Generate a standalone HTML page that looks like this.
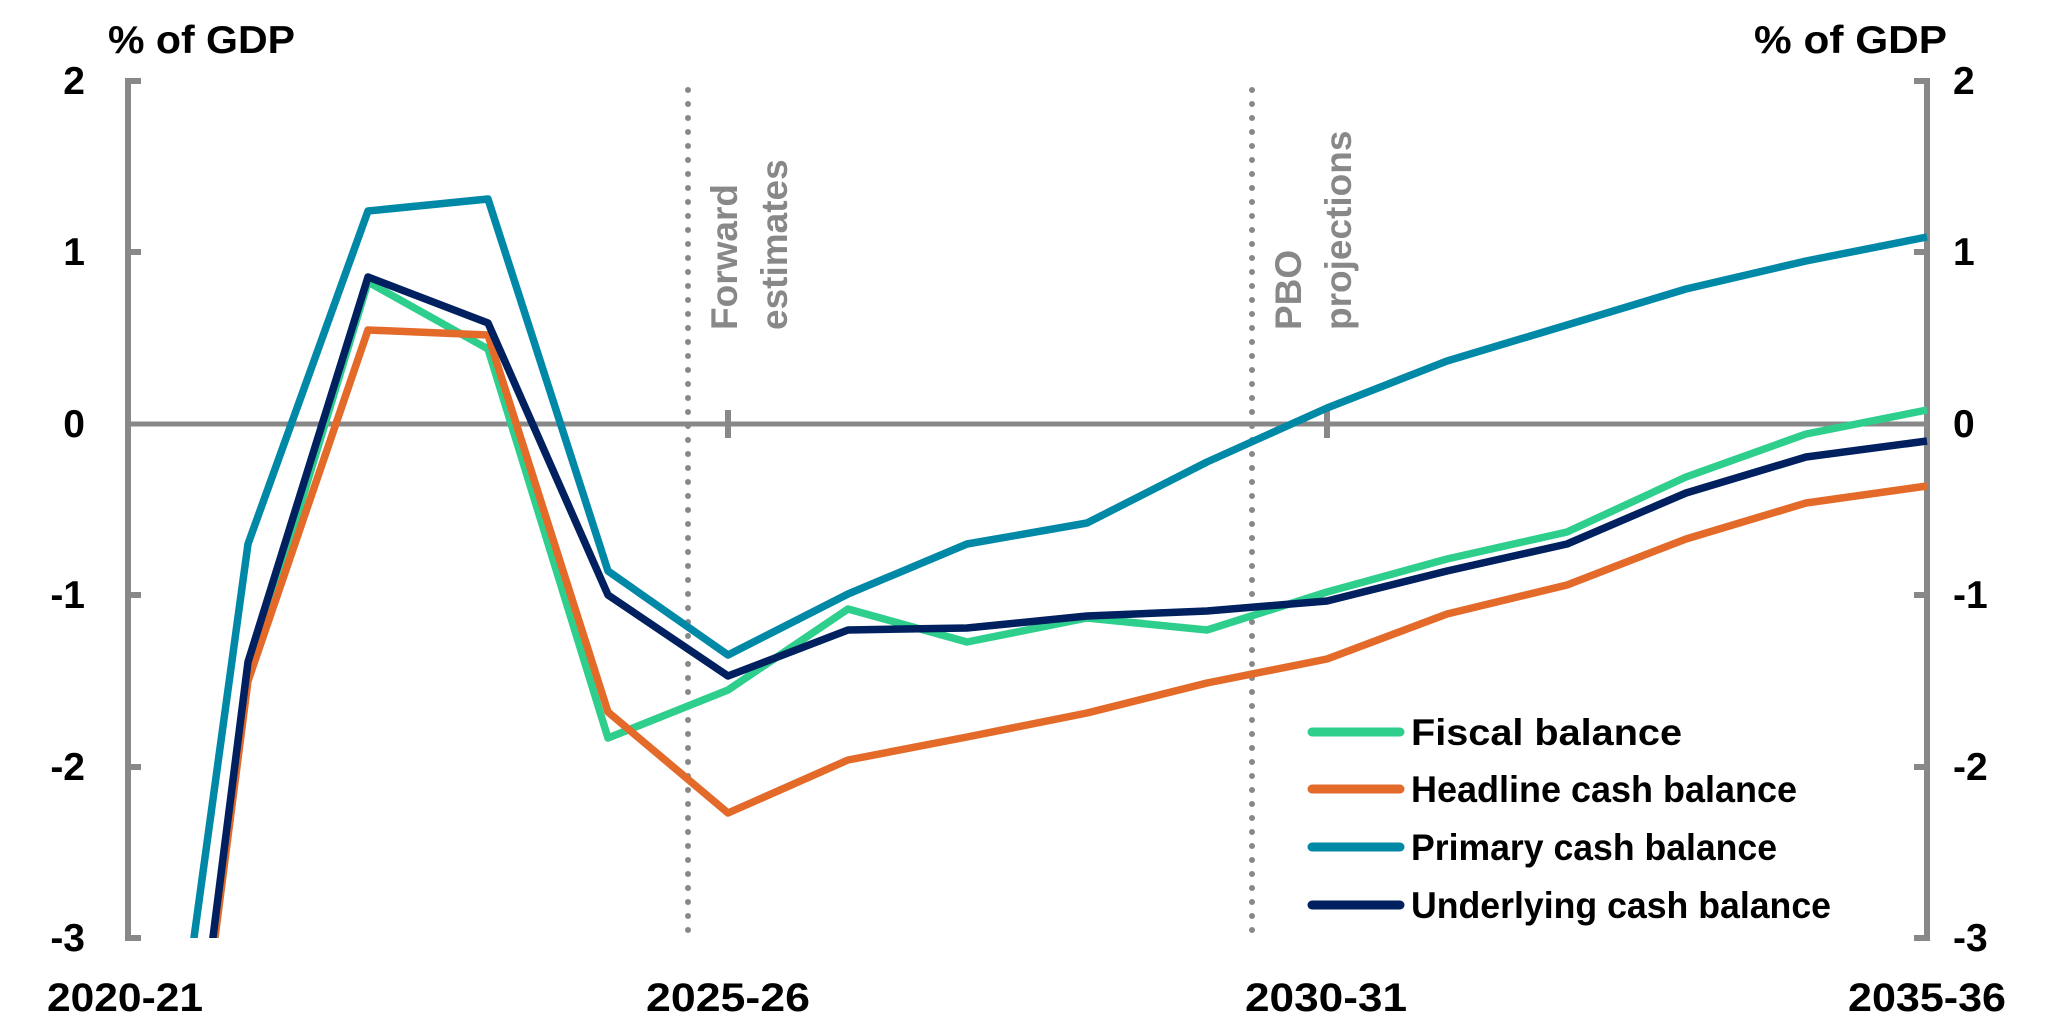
<!DOCTYPE html>
<html><head><meta charset="utf-8"><style>
html,body{margin:0;padding:0;background:#fff;overflow:hidden;width:2046px;height:1034px;}
svg{display:block;}
text{font-family:"Liberation Sans",Arial,sans-serif;font-weight:bold;}
</style></head><body>
<svg width="2046" height="1034" viewBox="0 0 2046 1034" xmlns="http://www.w3.org/2000/svg">
<defs><clipPath id="c"><rect x="128" y="60" width="1800" height="878"/></clipPath></defs>
<text x="108" y="53" font-size="39" textLength="187" lengthAdjust="spacingAndGlyphs">% of GDP</text>
<text x="1754" y="53" font-size="39" textLength="193" lengthAdjust="spacingAndGlyphs">% of GDP</text>
<g font-size="39" text-anchor="end">
<text x="85" y="94">2</text><text x="85" y="265">1</text><text x="85" y="437">0</text>
<text x="85" y="608">-1</text><text x="85" y="780">-2</text><text x="85" y="951">-3</text>
</g>
<g font-size="39">
<text x="1953" y="94">2</text><text x="1953" y="265">1</text><text x="1953" y="437">0</text>
<text x="1953" y="608">-1</text><text x="1953" y="780">-2</text><text x="1953" y="951">-3</text>
</g>
<g font-size="40">
<text x="47" y="1011" textLength="156" lengthAdjust="spacingAndGlyphs">2020-21</text>
<text x="646" y="1011" textLength="164" lengthAdjust="spacingAndGlyphs">2025-26</text>
<text x="1245" y="1011" textLength="162" lengthAdjust="spacingAndGlyphs">2030-31</text>
<text x="1848" y="1011" textLength="158" lengthAdjust="spacingAndGlyphs">2035-36</text>
</g>
<g stroke="#888" stroke-width="6" fill="none">
<path d="M141,81 H128 V938 H141"/>
<path d="M1914,81 H1927 V938 H1914"/>
<path d="M128,252 H141 M128,595 H141 M128,767 H141"/>
<path d="M1914,252 H1927 M1914,595 H1927 M1914,767 H1927"/>
<path d="M128,424 H1927" stroke-width="5"/>
<path d="M728,410 V438 M1327,410 V438"/>
</g>
<g stroke="#888" stroke-width="6" stroke-linecap="round" stroke-dasharray="0 14">
<line x1="688" y1="90" x2="688" y2="940"/>
<line x1="1252" y1="90" x2="1252" y2="940"/>
</g>
<g font-size="37" fill="#888">
<text transform="translate(737,330) rotate(-90)">Forward</text>
<text transform="translate(787,330) rotate(-90)">estimates</text>
<text transform="translate(1301,330) rotate(-90)">PBO</text>
<text transform="translate(1351,330) rotate(-90)">projections</text>
</g>
<g clip-path="url(#c)" fill="none" stroke-width="7.5" stroke-linejoin="round">
<polyline stroke="#0089A7" points="193,945 248,544 368,211 488,199 608,571 728,655 848,594 967,544 1087,523 1207,462 1327,408 1447,361 1567,325 1686,289 1806,261 1927,237"/>
<polyline stroke="#2ECF8C" points="214,945 248,678 368,282 488,349 608,738 728,690 848,609 967,642 1087,618 1207,630 1327,592 1447,559 1567,532 1686,477 1806,434 1927,410"/>
<polyline stroke="#E36A29" points="214,945 248,681 368,330 488,335 608,712 728,813 848,760 967,737 1087,713 1207,683 1327,659 1447,614 1567,585 1686,539 1806,503 1927,486"/>
<polyline stroke="#00205F" points="212,945 248,662 368,277 488,323 608,595 728,676 848,630 967,628 1087,616 1207,611 1327,601 1447,571 1567,544 1686,493 1806,457 1927,441"/>
</g>
<g stroke-width="9" stroke-linecap="round">
<line x1="1312" y1="732" x2="1400" y2="732" stroke="#2ECF8C"/>
<line x1="1312" y1="789" x2="1400" y2="789" stroke="#E36A29"/>
<line x1="1312" y1="847" x2="1400" y2="847" stroke="#0089A7"/>
<line x1="1312" y1="905" x2="1400" y2="905" stroke="#00205F"/>
</g>
<g font-size="37">
<text x="1411" y="745" textLength="271" lengthAdjust="spacingAndGlyphs">Fiscal balance</text>
<text x="1411" y="802" textLength="386" lengthAdjust="spacingAndGlyphs">Headline cash balance</text>
<text x="1411" y="860" textLength="366" lengthAdjust="spacingAndGlyphs">Primary cash balance</text>
<text x="1411" y="918" textLength="420" lengthAdjust="spacingAndGlyphs">Underlying cash balance</text>
</g>
</svg>
</body></html>
